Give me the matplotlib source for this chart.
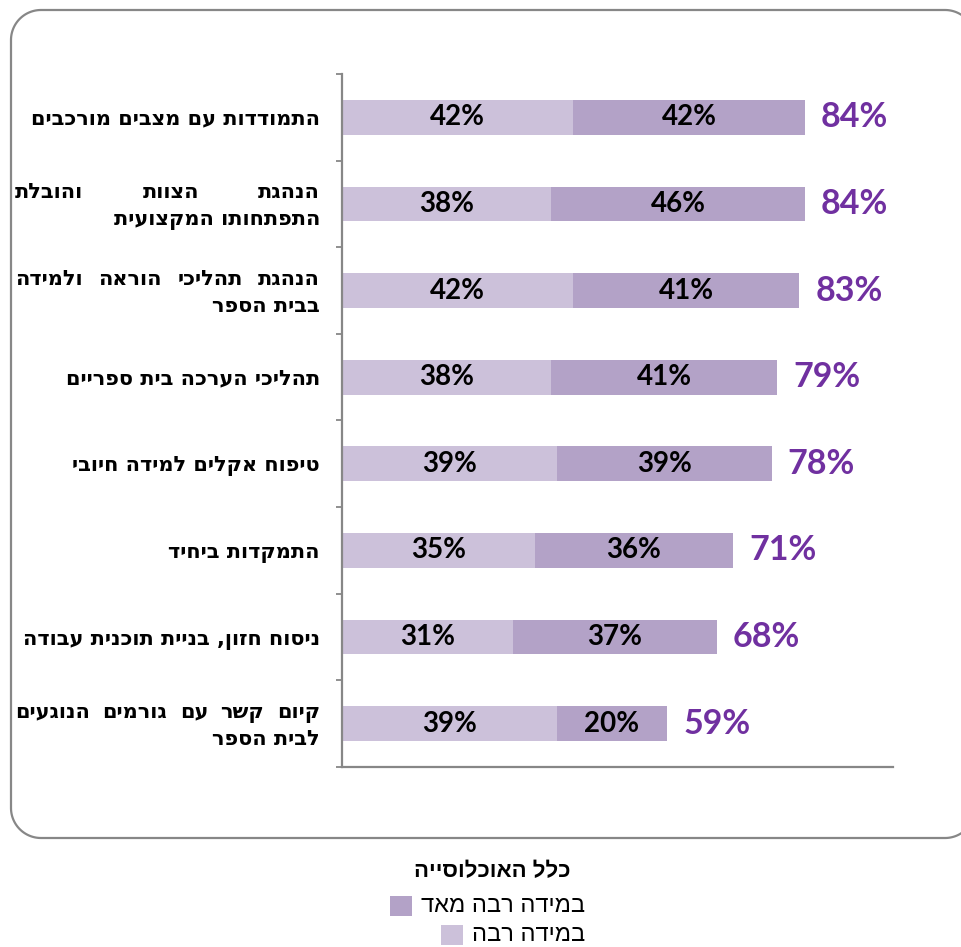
import numpy as np
import matplotlib
matplotlib.use("Agg")
import matplotlib.pyplot as plt
from matplotlib.patches import Rectangle
from matplotlib.lines import Line2D
from matplotlib.transforms import IdentityTransform

W, H = 961, 947

# category labels, one list of lines per bar (logical Hebrew order)
categories = [
    ["התמודדות עם מצבים מורכבים"],
    ["הנהגת הצוות והובלת", "התפתחותו המקצועית"],
    ["הנהגת תהליכי הוראה ולמידה", "בבית הספר"],
    ["תהליכי הערכה בית ספריים"],
    ["טיפוח אקלים למידה חיובי"],
    ["התמקדות ביחיד"],
    ["ניסוח חזון, בניית תוכנית עבודה"],
    ["קיום קשר עם גורמים הנוגעים", "לבית הספר"],
]
much = [42, 38, 42, 38, 39, 35, 31, 39]        # במידה רבה
very_much = [42, 46, 41, 41, 39, 36, 37, 20]   # במידה רבה מאד
series_names = ["במידה רבה", "במידה רבה מאד"]
legend_title = "כלל האוכלוסייה"

light = "#CCC1DA"
dark = "#B3A2C7"
purple = "#7030A0"
grey = "#878787"

heb_font = ["DejaVu Sans"]
num_font = ["Lato", "DejaVu Sans"]
leg_font = ["Liberation Sans", "DejaVu Sans"]


def heb(s):
    # matplotlib lays glyphs out left to right, so flip the Hebrew string
    return s[::-1]


def fx(px):
    return px / W


def fy(py):
    return 1 - py / H


fig = plt.figure(figsize=(W / 100, H / 100), dpi=100)
ident = IdentityTransform()


def rounded_frame(left, top, right, bottom, r):
    # outline of a rounded box (pixel coords from the top); the right side
    # lies past the canvas, so only the part up to the edge is traced
    def arc(cx, cy, a0, a1):
        a = np.radians(np.linspace(a0, a1, 30))
        return cx + r * np.cos(a), (H - cy) + r * np.sin(a)

    a_cut = np.degrees(np.arccos(min(1.0, (W - (right - r)) / r)))
    parts = [
        arc(right - r, top + r, a_cut, 90),
        arc(left + r, top + r, 90, 180),
        arc(left + r, bottom - r, 180, 270),
        arc(right - r, bottom - r, 270, 360 - a_cut),
    ]
    xs = np.concatenate([p[0] for p in parts])
    ys = np.concatenate([p[1] for p in parts])
    return Line2D(xs, ys, transform=ident, color=grey, linewidth=1.6,
                  solid_joinstyle="round")


fig.add_artist(rounded_frame(11, 10, 975, 838, 30))

ax = fig.add_axes([fx(342), fy(767), fx(893) - fx(342), fy(74) - fy(767)])
ypos = np.arange(len(categories))
totals = [a + b for a, b in zip(much, very_much)]

ax.barh(ypos, much, height=0.4, color=light, label=series_names[0])
ax.barh(ypos, very_much, left=much, height=0.4, color=dark, label=series_names[1])

for i in ypos:
    ax.text(much[i] / 2, i, f"{much[i]}%", ha="center", va="center",
            family=num_font, weight="bold", fontsize=20, color="black")
    ax.text(much[i] + very_much[i] / 2, i, f"{very_much[i]}%", ha="center",
            va="center", family=num_font, weight="bold", fontsize=20, color="black")
    ax.annotate(f"{totals[i]}%", xy=(totals[i], i), xytext=(16, 0),
                textcoords="offset pixels", ha="left", va="center",
                family=num_font, weight="bold", fontsize=24.5, color=purple)

ax.set_xlim(0, 100)
ax.set_ylim(len(categories) - 0.5, -0.5)
ax.set_xticks([])
ax.set_yticks(np.arange(-0.5, len(categories), 1))
ax.set_yticklabels([])
ax.tick_params(axis="y", length=4.5, width=1.3, color=grey, direction="out")
for side in ["top", "right"]:
    ax.spines[side].set_visible(False)
for side in ["left", "bottom"]:
    ax.spines[side].set_color(grey)
    ax.spines[side].set_linewidth(1.6)

# category labels, right aligned; first line of a two-line label is justified
renderer = fig.canvas.get_renderer()
x_left, x_right = 15, 320
lab_kw = dict(family=heb_font, weight="bold", fontsize=15, color="black")
half = 7.5


def justified(line, base_y):
    words = [heb(w) for w in reversed(line.split())]
    items = [fig.text(0, base_y, w, transform=ident, ha="left", va="baseline", **lab_kw)
             for w in words]
    widths = [t.get_window_extent(renderer).width for t in items]
    gap = (x_right - x_left - sum(widths)) / (len(items) - 1)
    x = x_left
    for t, w in zip(items, widths):
        t.set_x(x)
        x += w + gap


for i, lines in enumerate(categories):
    cy = ax.transData.transform((0, i))[1]
    if len(lines) == 1:
        fig.text(x_right, cy - half, heb(lines[0]), transform=ident,
                 ha="right", va="baseline", **lab_kw)
    else:
        justified(lines[0], cy + 13.5 - half)
        fig.text(x_right, cy - 13.5 - half, heb(lines[1]), transform=ident,
                 ha="right", va="baseline", **lab_kw)

# legend below the frame, entries right aligned with the swatch on the left
fig.text(492, H - 872, heb(legend_title), transform=ident, ha="center",
         va="center", family=leg_font, weight="bold", fontsize=16)
entries = [(series_names[1], dark, 906), (series_names[0], light, 935)]
for name, col, py in entries:
    t = fig.text(585, H - py, heb(name), transform=ident, ha="right",
                 va="center", family=leg_font, fontsize=17, color="black")
    w = t.get_window_extent(renderer).width
    fig.add_artist(Rectangle((585 - w - 31, H - py - 10), 22, 20,
                             transform=ident, facecolor=col, edgecolor="none"))

fig.savefig("out.png", dpi=100)
